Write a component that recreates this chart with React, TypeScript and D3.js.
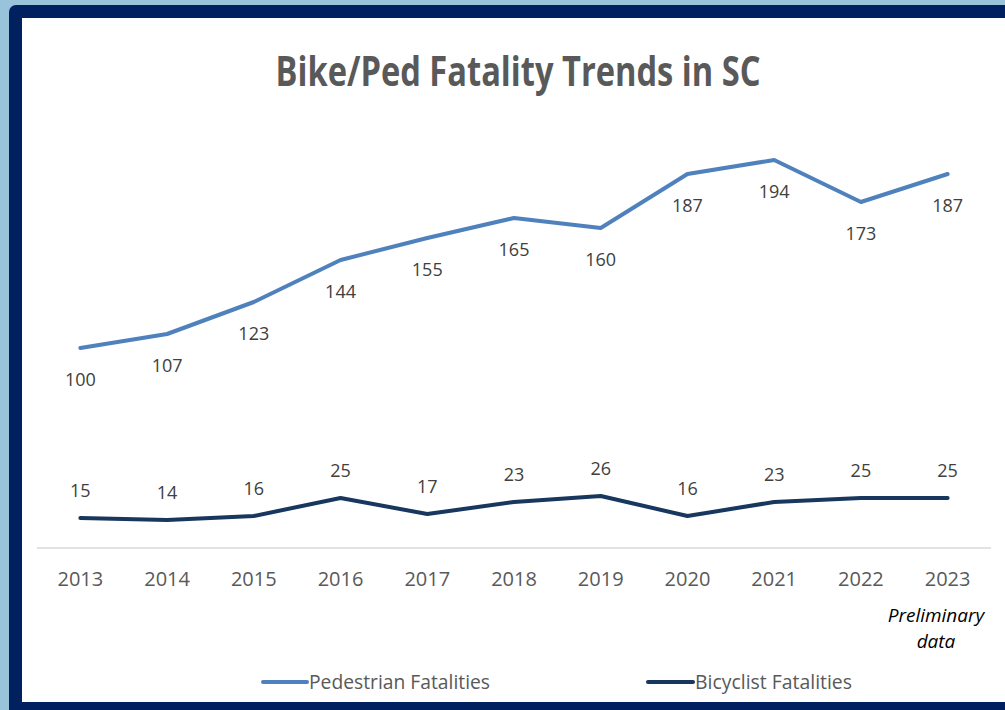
import * as d3 from "d3";
import React from "react";

const YEARS = ["2013", "2014", "2015", "2016", "2017", "2018", "2019", "2020", "2021", "2022", "2023"];
const PEDESTRIAN = [100, 107, 123, 144, 155, 165, 160, 187, 194, 173, 187];
const BICYCLIST = [15, 14, 16, 25, 17, 23, 26, 16, 23, 25, 25];

const WIDTH = 1005;
const HEIGHT = 710;
const PLOT = { left: 37, right: 991, top: 48, bottom: 548 };

const PED_COLOR = "#4f81bd";
const BIKE_COLOR = "#17375e";
const FONT = "'Open Sans', 'Noto Sans', sans-serif";

export default function App() {
  const xScale = d3.scaleBand<string>().domain(YEARS).range([PLOT.left, PLOT.right]);
  const yScale = d3.scaleLinear().domain([0, 250]).range([PLOT.bottom, PLOT.top]);
  const cx = (year: string) => (xScale(year) ?? 0) + xScale.bandwidth() / 2;

  const line = d3
    .line<number>()
    .x((_, i) => cx(YEARS[i]))
    .y((d) => yScale(d));

  return (
    <svg
      width={WIDTH}
      height={HEIGHT}
      style={{ position: "absolute", left: 0, top: 0, fontFamily: FONT }}
    >
      {/* frame */}
      <rect x={0} y={0} width={WIDTH} height={HEIGHT} fill="#98c3da" />
      <rect x={9} y={5} width={WIDTH + 20} height={HEIGHT + 20} rx={7} fill="#002060" />
      <rect x={22} y={18} width={WIDTH} height={684} fill="#ffffff" />

      <text
        x={518}
        y={86}
        textAnchor="middle"
        fontSize={42}
        fontWeight="bold"
        fill="#595959"
        textLength={485}
        lengthAdjust="spacingAndGlyphs"
      >
        Bike/Ped Fatality Trends in SC
      </text>

      {/* category axis */}
      <line x1={PLOT.left} x2={PLOT.right} y1={PLOT.bottom} y2={PLOT.bottom} stroke="#d9d9d9" strokeWidth={1.5} />
      {YEARS.map((y) => (
        <text key={y} x={cx(y)} y={586} textAnchor="middle" fontSize={20} fill="#595959">
          {y}
        </text>
      ))}

      <path d={line(PEDESTRIAN) ?? ""} fill="none" stroke={PED_COLOR} strokeWidth={4} strokeLinejoin="round" strokeLinecap="round" />
      <path d={line(BICYCLIST) ?? ""} fill="none" stroke={BIKE_COLOR} strokeWidth={4} strokeLinejoin="round" strokeLinecap="round" />

      {PEDESTRIAN.map((v, i) => (
        <text key={"p" + i} x={cx(YEARS[i])} y={yScale(v) + 38} textAnchor="middle" fontSize={18} fill="#404040">
          {v}
        </text>
      ))}
      {BICYCLIST.map((v, i) => (
        <text key={"b" + i} x={cx(YEARS[i])} y={yScale(v) - 21} textAnchor="middle" fontSize={18} fill="#404040">
          {v}
        </text>
      ))}

      <text x={936} y={622} textAnchor="middle" fontSize={19} fontStyle="italic" fill="#000000">
        Preliminary
      </text>
      <text x={936} y={648} textAnchor="middle" fontSize={19} fontStyle="italic" fill="#000000">
        data
      </text>

      {/* legend */}
      <line x1={263} x2={307} y1={682} y2={682} stroke={PED_COLOR} strokeWidth={4} strokeLinecap="round" />
      <text x={309} y={689} fontSize={20} fill="#595959" textLength={181} lengthAdjust="spacingAndGlyphs">
        Pedestrian Fatalities
      </text>
      <line x1={648} x2={693} y1={682} y2={682} stroke={BIKE_COLOR} strokeWidth={4} strokeLinecap="round" />
      <text x={695} y={689} fontSize={20} fill="#595959" textLength={157} lengthAdjust="spacingAndGlyphs">
        Bicyclist Fatalities
      </text>
    </svg>
  );
}
